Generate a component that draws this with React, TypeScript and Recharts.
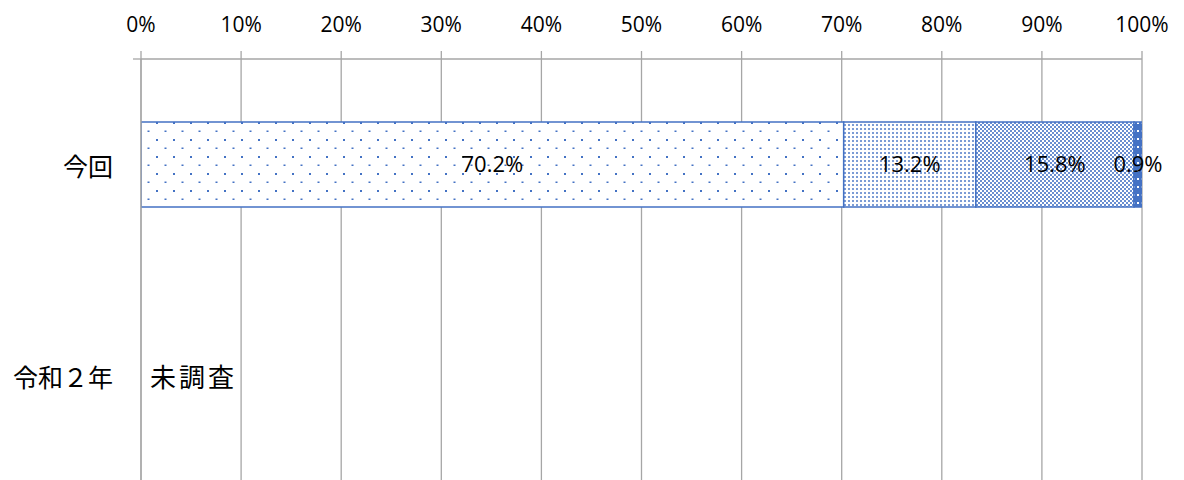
import React from 'react';
import { BarChart, Bar, XAxis, YAxis, CartesianGrid, LabelList } from 'recharts';

const categories = ['今回', '令和２年'];
const seriesA = [70.2, null];
const seriesB = [13.2, null];
const seriesC = [15.8, null];
const seriesD = [0.9, null];
const notes = ['', '未調査'];
const xTicks = [0, 10, 20, 30, 40, 50, 60, 70, 80, 90, 100];
const boundaryTicks = [0, 1, 2];

const data = categories.map((c, i) => ({
  name: c,
  a: seriesA[i],
  b: seriesB[i],
  c: seriesC[i],
  d: seriesD[i],
}));

const BLUE = '#4472C4';
const GRID = '#A6A6A6';
const FONT = '"Open Sans", "Liberation Sans", sans-serif';
const JFONT = '"Noto Sans CJK JP", sans-serif';

const pct = (v: any) => (v == null ? '' : `${v}%`);

const CatTick = (props: any) => {
  const { x, y, payload, index } = props;
  const note = notes[index];
  return (
    <g>
      <text x={x} y={y} textAnchor="end" dominantBaseline="central" fontSize={25} fontFamily={JFONT} fill="#000">
        {payload.value}
      </text>
      {note ? (
        <text x={x + 37} y={y} textAnchor="start" dominantBaseline="central" fontSize={26} letterSpacing={3} fontFamily={JFONT} fill="#000">
          {note}
        </text>
      ) : null}
    </g>
  );
};

export default function App() {
  return (
    <div style={{ position: 'absolute', left: 0, top: 0, background: '#fff' }}>
      <BarChart
        width={1184}
        height={490}
        data={data}
        layout="vertical"
        margin={{ top: 0, right: 42, bottom: 9, left: 0 }}
        barSize={85}
      >
        <defs>
          <pattern id="pA" x={0} y={0} width={17} height={17} patternUnits="userSpaceOnUse">
            <rect width={17} height={17} fill="#fff" />
            <rect x={3} y={3} width={2} height={2} fill={BLUE} />
            <rect x={11.5} y={11.5} width={2} height={1.5} fill={BLUE} />
          </pattern>
          <pattern id="pB" x={0} y={0} width={4} height={4} patternUnits="userSpaceOnUse">
            <rect width={4} height={4} fill="#fff" />
            <rect x={0} y={0} width={2} height={2} fill={BLUE} opacity={0.7} />
          </pattern>
          <pattern id="pC" x={0} y={0} width={4} height={4} patternUnits="userSpaceOnUse">
            <rect width={4} height={4} fill="#fff" />
            <rect x={0} y={0} width={2} height={2} fill={BLUE} opacity={0.8} />
            <rect x={2} y={2} width={2} height={2} fill={BLUE} opacity={0.8} />
          </pattern>
          <pattern id="pD" x={0} y={0} width={4} height={8} patternUnits="userSpaceOnUse">
            <rect width={4} height={8} fill={BLUE} />
            <rect x={1} y={2} width={2} height={2} fill="#fff" />
          </pattern>
        </defs>
        <CartesianGrid horizontal={false} stroke={GRID} strokeWidth={1.3} />
        <XAxis
          type="number"
          orientation="top"
          domain={[0, 100]}
          ticks={xTicks}
          allowDataOverflow
          height={59}
          tickFormatter={(v: number) => `${v}%`}
          tickSize={8}
          tickMargin={19}
          tickLine={{ stroke: GRID, strokeWidth: 1.3 }}
          axisLine={{ stroke: GRID, strokeWidth: 1.3 }}
          tick={{ fill: '#000', fontSize: 21, fontFamily: FONT }}
          interval={0}
        />
        <YAxis
          yAxisId={0}
          type="number"
          domain={[0, 2]}
          ticks={boundaryTicks}
          width={8}
          tickFormatter={() => ''}
          tick={{ fontSize: 1 }}
          tickSize={8}
          tickMargin={0}
          tickLine={{ stroke: GRID, strokeWidth: 1.3 }}
          axisLine={{ stroke: GRID, strokeWidth: 1.3 }}
        />
        <YAxis
          yAxisId="cat"
          type="category"
          dataKey="name"
          width={133}
          axisLine={false}
          tickLine={false}
          tickSize={0}
          tickMargin={20}
          tick={<CatTick />}
        />
        <Bar yAxisId="cat" dataKey="a" stackId="s" fill="url(#pA)" stroke={BLUE} strokeWidth={1.5} isAnimationActive={false}>
          <LabelList dataKey="a" position="center" formatter={pct} fill="#000" fontSize={22} fontFamily={FONT} />
        </Bar>
        <Bar yAxisId="cat" dataKey="b" stackId="s" fill="url(#pB)" stroke={BLUE} strokeWidth={1.5} isAnimationActive={false}>
          <LabelList dataKey="b" position="center" formatter={pct} fill="#000" fontSize={22} fontFamily={FONT} />
        </Bar>
        <Bar yAxisId="cat" dataKey="c" stackId="s" fill="url(#pC)" stroke={BLUE} strokeWidth={1.5} isAnimationActive={false}>
          <LabelList dataKey="c" position="center" formatter={pct} fill="#000" fontSize={22} fontFamily={FONT} />
        </Bar>
        <Bar yAxisId="cat" dataKey="d" stackId="s" fill="url(#pD)" stroke={BLUE} strokeWidth={1.5} isAnimationActive={false}>
          <LabelList dataKey="d" position="center" formatter={pct} fill="#000" fontSize={22} fontFamily={FONT} />
        </Bar>
      </BarChart>
    </div>
  );
}
